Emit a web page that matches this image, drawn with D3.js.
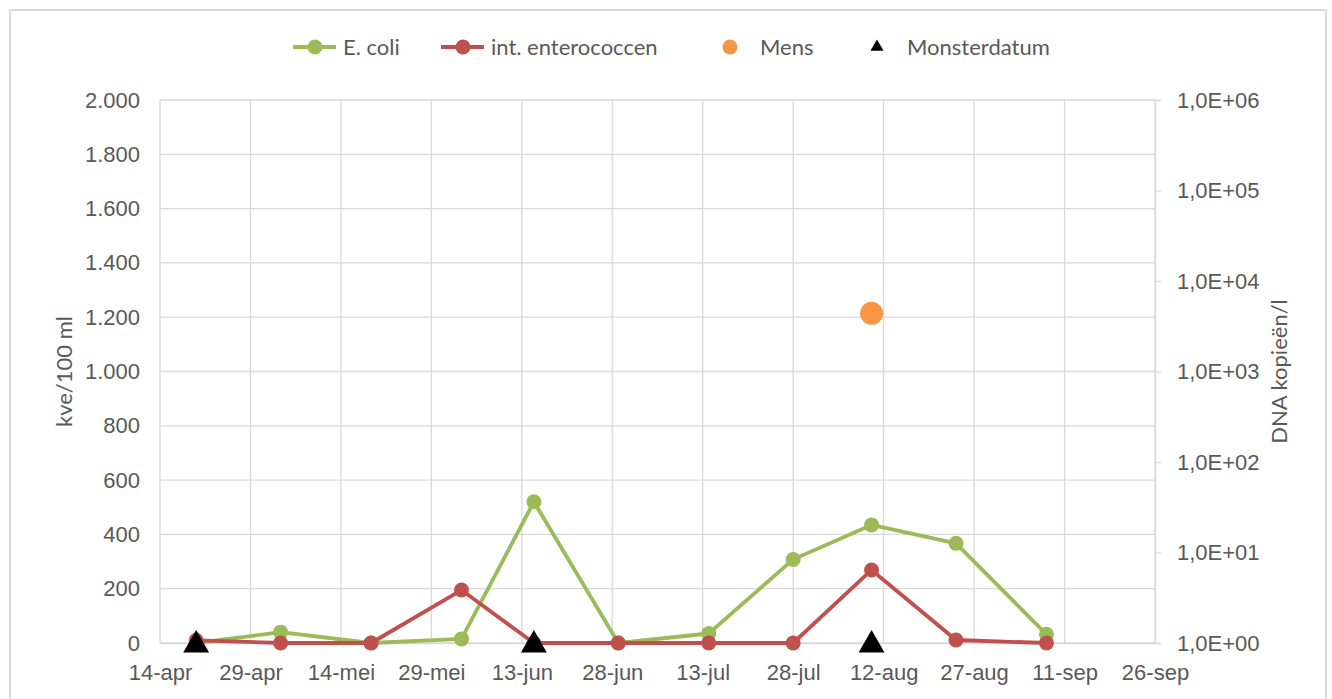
<!DOCTYPE html>
<html>
<head>
<meta charset="utf-8">
<script src="https://cdn.jsdelivr.net/npm/d3@7"></script>
<style>
  body { margin: 0; background: #fff; }
  svg { font-family: Lato, "Open Sans", sans-serif; }
  .grid line { stroke: #d9d9d9; stroke-width: 1.3; }
  .tick text { fill: #595959; font-size: 22px; }
</style>
</head>
<body>
<script>
// dates of the sampling (dd-mm)
var dates = ["20-04", "04-05", "19-05", "03-06", "15-06", "29-06", "14-07", "28-07", "10-08", "24-08", "08-09"];
var ecoli = [0, 40, 0, 15, 520, 0, 35, 308, 435, 367, 32];
var entero = [10, 0, 0, 195, 0, 0, 0, 0, 269, 11, 0];
var mensDates = ["10-08"];
var mensValues = [4400];          // DNA kopieën/l (right axis)
var monsterDates = ["20-04", "15-06", "10-08"];
var xTickLabels = ["14-apr", "29-apr", "14-mei", "29-mei", "13-jun", "28-jun", "13-jul", "28-jul", "12-aug", "27-aug", "11-sep", "26-sep"];
var yTicks = [0, 200, 400, 600, 800, 1000, 1200, 1400, 1600, 1800, 2000];
var y2Ticks = [1, 10, 100, 1000, 10000, 100000, 1000000];

var width = 1332, height = 699;
var margin = {left: 160, right: 177, top: 100, bottom: 56};

function parse(s) {
  var p = s.split("-");
  return new Date(Date.UTC(2019, +p[1] - 1, +p[0]));
}

var svg = d3.select("body").append("svg")
    .attr("width", width).attr("height", height);

// outer frame
svg.append("rect")
    .attr("x", 10).attr("y", 10)
    .attr("width", 1316).attr("height", 700)
    .attr("fill", "#fff")
    .attr("stroke", "#d9d9d9").attr("stroke-width", 2);

var x = d3.scaleUtc()
    .domain([parse("14-04"), parse("26-09")])
    .range([margin.left, width - margin.right]);

var y = d3.scaleLinear()
    .domain([0, 2000])
    .range([height - margin.bottom, margin.top]);

var y2 = d3.scaleLog()
    .domain([1, 1000000])
    .range([height - margin.bottom, margin.top]);

var xTickDates = xTickLabels.map(function(d, i) { return d3.utcDay.offset(parse("14-04"), i * 15); });

// grid
var grid = svg.append("g").attr("class", "grid");
grid.selectAll(".h").data(yTicks).enter().append("line")
    .attr("x1", margin.left).attr("x2", width - margin.right)
    .attr("y1", function(d) { return y(d); }).attr("y2", function(d) { return y(d); });
grid.selectAll(".v").data(xTickDates).enter().append("line")
    .attr("x1", function(d) { return x(d); }).attr("x2", function(d) { return x(d); })
    .attr("y1", margin.top).attr("y2", height - margin.bottom);

// left axis
var yAxis = svg.append("g")
    .attr("transform", "translate(" + margin.left + ",0)")
    .call(d3.axisLeft(y).tickValues(yTicks).tickSize(0).tickPadding(20)
      .tickFormat(function(d) { return d3.format(",")(d).replace(",", "."); }));
yAxis.select(".domain").remove();

// right axis
var y2Axis = svg.append("g")
    .attr("transform", "translate(" + (width - margin.right) + ",0)")
    .call(d3.axisRight(y2).tickValues(y2Ticks).tickSize(6).tickPadding(16)
      .tickFormat(function(d) { return "1,0E+" + String(Math.round(Math.log10(d))).padStart(2, "0"); }));
y2Axis.select(".domain").attr("stroke", "#d9d9d9").attr("stroke-width", 1.3);
y2Axis.selectAll(".tick line").attr("stroke", "#d9d9d9").attr("stroke-width", 1.3);

// bottom axis
var xAxis = svg.append("g")
    .attr("transform", "translate(0," + (height - margin.bottom) + ")")
    .call(d3.axisBottom(x).tickValues(xTickDates).tickSize(0).tickPadding(21)
      .tickFormat(function(d, i) { return xTickLabels[i]; }));
xAxis.select(".domain").attr("stroke", "#d9d9d9").attr("stroke-width", 1.3);

// axis titles
svg.append("text")
    .attr("transform", "translate(72," + y(1000) + ") rotate(-90)")
    .attr("text-anchor", "middle")
    .attr("fill", "#595959").attr("font-size", 22)
    .text("kve/100 ml");
svg.append("text")
    .attr("transform", "translate(1287," + y(1000) + ") rotate(-90)")
    .attr("text-anchor", "middle")
    .attr("fill", "#595959").attr("font-size", 22)
    .text("DNA kopieën/l");

var line = d3.line()
    .x(function(d) { return x(parse(d[0])); })
    .y(function(d) { return y(d[1]); });

function drawSeries(values, color) {
  var data = dates.map(function(d, i) { return [d, values[i]]; });
  svg.append("path").datum(data)
      .attr("fill", "none").attr("stroke", color)
      .attr("stroke-width", 3.8).attr("stroke-linejoin", "round")
      .attr("d", line);
  svg.selectAll(null).data(data).enter().append("circle")
      .attr("cx", function(d) { return x(parse(d[0])); })
      .attr("cy", function(d) { return y(d[1]); })
      .attr("r", 7.5)
      .attr("fill", color);
}

drawSeries(ecoli, "#9bbb59");
drawSeries(entero, "#c0504d");

// Mens
svg.selectAll(".mens").data(mensDates).enter().append("circle")
    .attr("cx", function(d) { return x(parse(d)); })
    .attr("cy", function(d, i) { return y2(mensValues[i]); })
    .attr("r", 11.5)
    .attr("fill", "#f79646");

// Monsterdatum triangles
var tri = d3.symbol().type(d3.symbolTriangle).size(290);
svg.selectAll(".monster").data(monsterDates).enter().append("path")
    .attr("d", tri)
    .attr("transform", function(d) { return "translate(" + x(parse(d)) + "," + (y(0) + 2) + ")"; })
    .attr("fill", "#000");

// legend
var legend = svg.append("g").attr("font-size", 22).attr("fill", "#595959");
var lg = [
  {type: "line", color: "#9bbb59", x: 293, label: "E. coli"},
  {type: "line", color: "#c0504d", x: 441, label: "int. enterococcen"},
  {type: "dot", color: "#f79646", x: 730, label: "Mens"},
  {type: "tri", color: "#000", x: 877, label: "Monsterdatum"}
];
lg.forEach(function(d) {
  var g = legend.append("g").attr("transform", "translate(" + d.x + ",47)");
  var tx;
  if (d.type == "line") {
    g.append("line").attr("x1", 0).attr("x2", 43).attr("stroke", d.color).attr("stroke-width", 3.8);
    g.append("circle").attr("cx", 22).attr("r", 7.5).attr("fill", d.color);
    tx = 50;
  } else if (d.type == "dot") {
    g.append("circle").attr("cx", 0).attr("r", 7.5).attr("fill", d.color);
    tx = 30;
  } else {
    g.append("path").attr("d", d3.symbol().type(d3.symbolTriangle).size(75)).attr("fill", d.color);
    tx = 30;
  }
  g.append("text").attr("x", tx).attr("dy", "0.35em").text(d.label);
});
</script>
</body>
</html>
